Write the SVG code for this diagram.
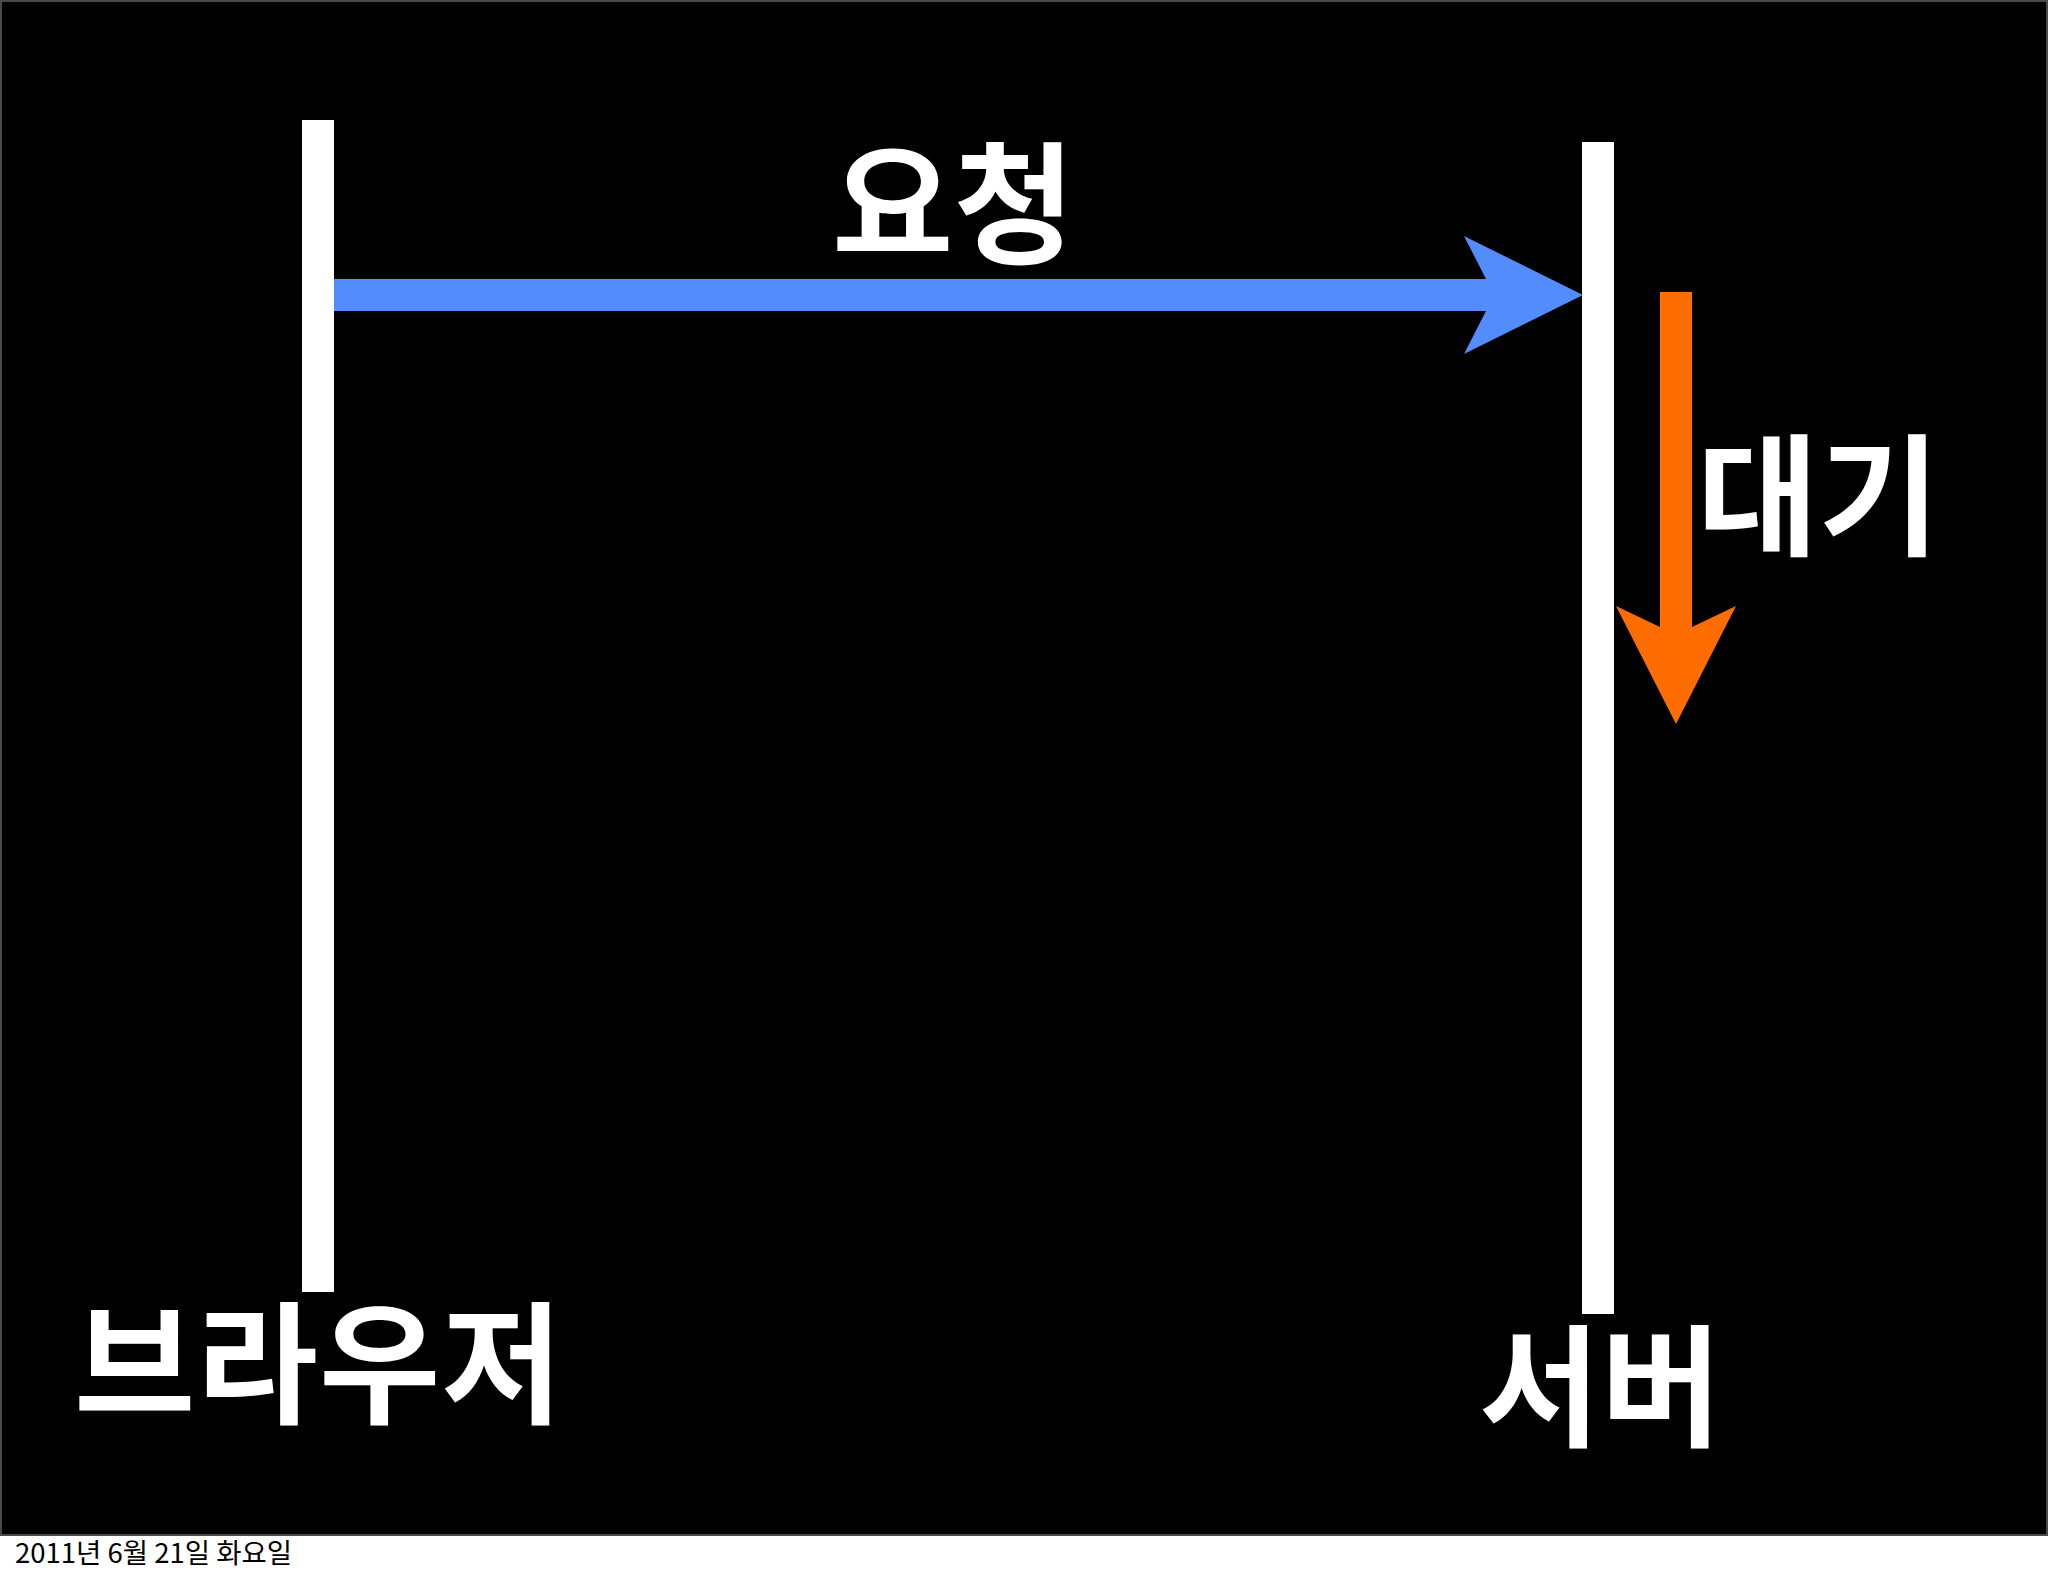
<svg xmlns="http://www.w3.org/2000/svg" width="2048" height="1576" viewBox="0 0 2048 1576">
<style>
.lbl{font-family:"Noto Sans CJK KR","Noto Sans",sans-serif;font-weight:700;font-size:132px;fill:#ffffff;}
.foot{font-family:"Noto Sans CJK KR","Noto Sans",sans-serif;font-weight:400;font-size:27.5px;fill:#000000;}
.bar{fill:#ffffff;}
</style>
<rect x="0" y="0" width="2048" height="1576" fill="#ffffff"/>
<rect x="1" y="1" width="2046" height="1534" fill="#000000" stroke="#4a4a4a" stroke-width="2"/>
<g id="browser">
<rect class="bar" x="302" y="120" width="32" height="1172"/>
<text class="lbl" x="74" y="1413" letter-spacing="1">브라우저</text>
</g>
<g id="server">
<rect class="bar" x="1582" y="142" width="32" height="1172"/>
<text class="lbl" x="1479" y="1436">서버</text>
</g>
<g id="connectors">
<g id="request">
<polygon fill="#528CFD" points="334,279 1486,279 1464,236 1583,295 1464,354 1486,311 334,311"/>
<text class="lbl" x="832" y="253">요청</text>
</g>
<g id="wait">
<polygon fill="#FF6C00" points="1660,292 1692,292 1692,627 1736,606 1676,724 1616,606 1660,627"/>
<text class="lbl" x="1697" y="545">대기</text>
</g>
</g>
<text class="foot" x="15" y="1563">2011년 6월 21일 화요일</text>
</svg>
